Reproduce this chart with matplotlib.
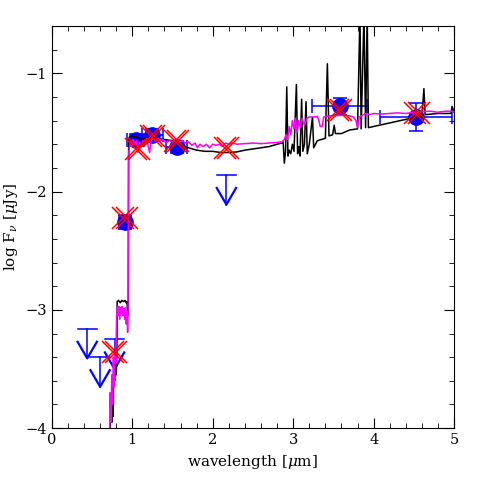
import numpy as np
import matplotlib.pyplot as plt
import matplotlib.transforms as mtransforms

# -----------------------------------------------------------------------------
#
# Data (wavelength in micron, log flux in uJy)
#
# -----------------------------------------------------------------------------
bk_wave = [0.720, 0.735, 0.745, 0.755, 0.762, 0.770, 0.780, 0.790, 0.800, 0.808,
           0.812, 0.830, 0.850, 0.870, 0.890, 0.910, 0.925, 0.935, 0.942, 0.950,
           0.955, 0.970, 1.000, 1.050, 1.100, 1.200, 1.300, 1.400, 1.500, 1.600,
           1.700, 1.800, 1.900, 2.000, 2.100, 2.200, 2.300, 2.400, 2.500, 2.600,
           2.700, 2.800, 2.860, 2.875, 2.890, 2.905, 2.920, 2.935, 2.950, 2.970,
           2.990, 3.010, 3.040, 3.055, 3.070, 3.085, 3.105, 3.120, 3.140, 3.160,
           3.175, 3.200, 3.240, 3.255, 3.300, 3.350, 3.400, 3.425, 3.445, 3.490,
           3.510, 3.525, 3.600, 3.700, 3.800, 3.830, 3.845, 3.880, 3.900, 3.920,
           3.935, 4.000, 4.200, 4.400, 4.600, 4.625, 4.640, 4.800, 4.960, 4.975,
           5.000]
bk_logf = [-4.10, -3.75, -3.95, -3.55, -3.90, -3.48, -3.60, -3.45, -3.55, -3.40,
           -2.93, -2.92, -2.94, -2.92, -2.93, -2.92, -2.94, -2.93, -3.05, -2.95,
           -1.56, -1.53, -1.53, -1.54, -1.56, -1.55, -1.55, -1.56, -1.57, -1.61,
           -1.63, -1.65, -1.66, -1.66, -1.67, -1.67, -1.665, -1.65, -1.64, -1.63,
           -1.62, -1.60, -1.59, -1.58, -1.76, -1.66, -1.115, -1.70, -1.65, -1.68,
           -1.60, -1.66, -1.095, -1.68, -1.62, -1.70, -1.22, -1.66, -1.60, -1.24,
           -1.68, -1.60, -1.37, -1.63, -1.57, -1.56, -1.55, -0.92, -1.53, -1.52,
           -1.44, -1.51, -1.51, -1.48, -1.47, -0.50, -1.47, -0.50, -1.46, -0.50,
           -1.46, -1.45, -1.42, -1.39, -1.36, -1.13, -1.35, -1.34, -1.34, -1.28,
           -1.33]

mg_wave = [0.718, 0.725, 0.735, 0.745, 0.755, 0.765, 0.775, 0.785, 0.795, 0.805,
           0.815, 0.825, 0.835, 0.845, 0.855, 0.865, 0.875, 0.885, 0.895, 0.905,
           0.915, 0.925, 0.935, 0.942, 0.948, 0.953, 0.965, 0.980, 0.995, 1.010,
           1.030, 1.050, 1.070, 1.090, 1.110, 1.130, 1.150, 1.170, 1.190, 1.215,
           1.235, 1.260, 1.290, 1.320, 1.350, 1.380, 1.420, 1.460, 1.500, 1.540,
           1.580, 1.620, 1.660, 1.700, 1.740, 1.780, 1.810, 1.840, 1.880, 1.920,
           1.960, 2.000, 2.040, 2.080, 2.120, 2.160, 2.200, 2.250, 2.300, 2.400,
           2.500, 2.600, 2.700, 2.800, 2.860, 2.890, 2.910, 2.930, 2.950, 2.970,
           2.990, 3.010, 3.030, 3.050, 3.070, 3.090, 3.110, 3.140, 3.170, 3.200,
           3.250, 3.300, 3.320, 3.335, 3.360, 3.380, 3.450, 3.500, 3.600, 3.700,
           3.750, 3.780, 3.800, 3.820, 3.900, 3.950, 4.000, 4.100, 4.200, 4.300,
           4.400, 4.500, 4.600, 4.700, 4.800, 4.900, 5.000]
mg_logf = [-4.10, -3.70, -3.95, -3.55, -3.80, -3.40, -3.65, -3.35, -3.45, -3.05,
           -2.97, -3.05, -2.97, -3.08, -2.98, -3.03, -2.97, -3.05, -2.99, -3.08,
           -2.98, -3.12, -3.02, -3.19, -3.00, -1.70, -1.62, -1.58, -1.62, -1.56,
           -1.60, -1.57, -1.67, -1.58, -1.61, -1.57, -1.60, -1.56, -1.59, -1.67,
           -1.57, -1.55, -1.58, -1.55, -1.57, -1.56, -1.59, -1.57, -1.58, -1.56,
           -1.58, -1.57, -1.59, -1.58, -1.61, -1.59, -1.63, -1.60, -1.62, -1.60,
           -1.63, -1.60, -1.61, -1.60, -1.62, -1.59, -1.60, -1.59, -1.60, -1.595,
           -1.59, -1.595, -1.59, -1.585, -1.58, -1.56, -1.52, -1.56, -1.45, -1.52,
           -1.40, -1.47, -1.38, -1.50, -1.40, -1.46, -1.38, -1.44, -1.38, -1.37,
           -1.37, -1.365, -1.40, -1.45, -1.45, -1.37, -1.36, -1.36, -1.355, -1.36,
           -1.37, -1.40, -1.46, -1.37, -1.34, -1.35, -1.34, -1.345, -1.34, -1.335,
           -1.34, -1.33, -1.325, -1.32, -1.33, -1.32, -1.325]

# observed photometry
obs_wave = [0.91, 1.04, 1.25, 1.55, 3.58, 4.53]
obs_logf = [-2.26, -1.565, -1.52, -1.62, -1.28, -1.37]
obs_xerr = [0.08, 0.10, 0.13, 0.13, 0.34, 0.45]
obs_yerr = [0.06, 0.05, 0.05, 0.05, 0.07, 0.12]

# upper limits
ul_wave = [0.44, 0.60, 0.78, 2.17]
ul_logf = [-3.16, -3.40, -3.25, -1.86]

# model photometry
mod_wave = [0.775, 0.91, 1.06, 1.25, 1.55, 2.17, 3.58, 4.54]
mod_logf = [-3.36, -2.22, -1.64, -1.53, -1.57, -1.635, -1.31, -1.34]

# -----------------------------------------------------------------------------
#
# Figure
#
# -----------------------------------------------------------------------------
plt.rcParams['font.family'] = 'DejaVu Serif'
plt.rcParams['mathtext.fontset'] = 'dejavuserif'

fig = plt.figure(figsize=(4.8, 4.8), dpi=100)
ax = fig.add_axes([0.108, 0.108, 0.838, 0.838])

ax.errorbar(obs_wave, obs_logf, xerr=obs_xerr, yerr=obs_yerr, fmt='o',
            color='blue', ms=11, elinewidth=1.1, capsize=5, capthick=1.1, zorder=2)

# upper limit arrows
w, L, hw, hh = 0.12, 0.25, 0.12, 0.14
for x, y in zip(ul_wave, ul_logf):
    ax.plot([x - w, x + w], [y, y], color='blue', lw=1.1, zorder=2)
    ax.plot([x, x], [y, y - L], color='blue', lw=1.1, zorder=2)
    ax.plot([x - hw, x, x + hw], [y - L + hh, y - L, y - L + hh],
            color='blue', lw=1.6, zorder=2)

ax.plot(bk_wave, bk_logf, color='black', lw=1.1, zorder=3)
ax.plot(mg_wave, mg_logf, color='magenta', lw=1.1, zorder=4)

# red crosses drawn twice with a small offset to get the doubled look
for dx in (-1.6, 1.6):
    tr = mtransforms.offset_copy(ax.transData, fig=fig, x=dx, y=0, units='dots')
    ax.plot(mod_wave, mod_logf, 'x', color='red', ms=16, mew=1.1,
            transform=tr, zorder=5)

ax.set_xlim(0, 5)
ax.set_ylim(-4, -0.6)
ax.set_xticks(np.arange(0, 6, 1))
ax.set_yticks([-4, -3, -2, -1])
ax.set_xticks(np.arange(0, 5.01, 0.2), minor=True)
ax.set_yticks(np.arange(-4, -0.59, 0.2), minor=True)
ax.tick_params(which='both', direction='in', top=True, right=True, labelsize=10.5)
ax.tick_params(which='major', length=7)
ax.tick_params(which='minor', length=3.5)

ax.set_xlabel(r'wavelength [$\mu$m]', fontsize=11)
ax.set_ylabel(r'log F$_\nu$ [$\mu$Jy]', fontsize=11, labelpad=4)

fig.savefig('out.png', dpi=100)
